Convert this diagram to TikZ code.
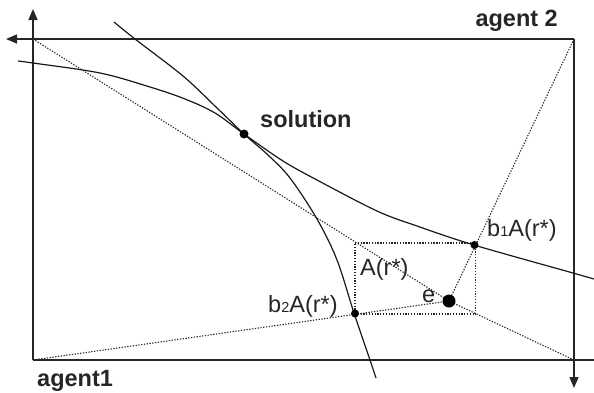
\documentclass[tikz,border=0pt]{standalone}
\usepackage{fontspec}
\setmainfont{Liberation Sans}
\usetikzlibrary{arrows.meta}
\tikzset{
  axis/.style={line width=1.5pt, draw=black!85},
  axarrow/.style={axis, -{Triangle[length=11pt,width=9pt]}},
  curve/.style={line width=1.2pt, draw=black!90},
  dotline/.style={line width=1.1pt, draw=black!85, dash pattern=on 1.3pt off 1.5pt},
  dot/.style={circle, fill=black, inner sep=0pt, minimum size=#1},
  lab/.style={font=\fontsize{23.5}{27}\selectfont, text=black!85, inner sep=0pt, anchor=base west},
  blab/.style={lab, font=\fontsize{23.5}{27}\selectfont\bfseries}
}
\begin{document}
\begin{tikzpicture}[x=1pt,y=-1pt]
\useasboundingbox (0,0) rectangle (594,392);
% corners
\coordinate (TL) at (33,39);
\coordinate (TR) at (574,39);
\coordinate (BL) at (33,360);
\coordinate (BR) at (574,360);
\coordinate (upT) at (33,9);
\coordinate (leftT) at (6,39);
\coordinate (downT) at (574,388);
\coordinate (bEnd) at (594,360);
% axes
\draw[axarrow] (BL) -- (upT);
\draw[axarrow] (TR) -- (leftT);
\draw[axarrow] (TR) -- (downT);
\draw[axis] (BL) -- (bEnd);
% small box
\coordinate (e) at (449,301);
\coordinate (q1) at (355,243);
\coordinate (q2) at (475.5,243);
\coordinate (q3) at (475.5,314);
\coordinate (q4) at (355,314);
\draw[dotline] (q1) -- (q2) -- (q3) -- (q4) -- cycle;
% dotted rays through e
\draw[dotline] (TL) -- (e);
\draw[dotline] (TR) -- (e);
\draw[dotline] (BL) -- (e);
\draw[dotline] (BR) -- (e);
% curves
\draw[curve] plot[smooth, tension=0.55] coordinates {(18,61) (33,63) (100,73) (150,87) (185,99) (215,113) (244,134) (283,161) (317,180) (377,211) (417,226) (474,245) (573,273) (594,279)};
\draw[curve] plot[smooth, tension=0.55] coordinates {(114,22) (135,39) (183,76) (217,108) (244,134) (268,155) (290,178) (317,219) (337,260) (354,313) (370,360) (376,378)};
% dots
\node[dot=9pt] (sol) at (244,134) {};
\node[dot=8pt] (b1) at (474.5,245) {};
\node[dot=8pt] (b2) at (355,313.5) {};
\node[dot=13pt] (edot) at (449,301) {};
% labels
\node[blab, anchor=base east] (ag2) at (558,26) {agent 2};
\node[blab] (ag1) at (37,386) {agent1};
\node[blab] (soltxt) at (260,127) {solution};
\node[lab] (b1txt) at (487,236) {b{\fontsize{14.5}{14.5}\selectfont 1}A(r*)};
\node[lab] (b2txt) at (268,312) {b{\fontsize{14.5}{14.5}\selectfont 2}A(r*)};
\node[lab] (atxt) at (360,275) {A(r*)};
\node[lab] (etxt) at (422,302) {e};
\end{tikzpicture}
\end{document}
